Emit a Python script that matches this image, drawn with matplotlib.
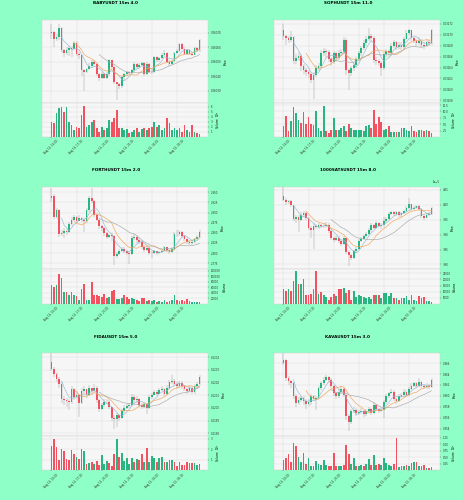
import numpy as np
import pandas as pd
import matplotlib
matplotlib.use("Agg")
import matplotlib.pyplot as plt
from matplotlib.ticker import MultipleLocator, FormatStrFormatter, ScalarFormatter

# 60 candles of 15m, ticks every 10 candles
tick_idx = [0, 10, 20, 30, 40, 50]
tick_labels = ["Aug 14, 15:00", "Aug 14, 17:30", "Aug 14, 20:00",
               "Aug 14, 22:30", "Aug 15, 01:00", "Aug 15, 03:30"]
ma_windows = [5, 10, 20]

# --- BABYUSDT (prices in 1e-5) ---
baby_open0 = 6069.5
baby_close = [6070.5, 6066, 6067, 6073, 6058.4, 6056.3, 6058, 6059.5, 6059, 6063,
              6055.6, 6054.4, 6044, 6042.8, 6045, 6047.4, 6050, 6048.6, 6041.6, 6039,
              6041.6, 6039, 6041.6, 6051, 6046.3, 6035.8, 6034.5, 6033, 6039.3, 6041.6,
              6042.8, 6042.5, 6044, 6048.6, 6046.3, 6048, 6049, 6041.6, 6048.6, 6043,
              6042.8, 6053.3, 6051, 6052.5, 6054.4, 6056, 6050, 6048.6, 6050.5, 6056.3,
              6057.5, 6062, 6059, 6055.6, 6058, 6055.6, 6055, 6059.5, 6058, 6065]
baby_high = [6076, 6071, 6069, 6076, 6074, 6059, 6060, 6061, 6061, 6064,
             6064, 6057, 6055, 6045, 6046, 6049, 6051, 6051.5, 6049, 6042.5,
             6043, 6042, 6043, 6052, 6051.5, 6047, 6036, 6035.5, 6040, 6042.5,
             6043.5, 6043.5, 6045, 6050, 6049, 6049, 6050, 6049.5, 6049.5, 6049,
             6045, 6054, 6054, 6053.5, 6056, 6058, 6056.5, 6051, 6051.5, 6057,
             6059, 6063, 6063, 6060, 6059, 6058.5, 6057, 6060.5, 6060, 6066]
baby_low = [6066, 6060, 6064, 6065, 6056, 6053, 6055, 6054, 6053, 6058,
            6054, 6052, 6040, 6029.5, 6042, 6044, 6046, 6047, 6040, 6037,
            6038, 6038, 6038, 6040, 6045, 6035, 6023.5, 6031, 6032, 6037,
            6040, 6041, 6041.5, 6043, 6045, 6045, 6047, 6040.5, 6041, 6042,
            6041.5, 6042, 6050, 6050, 6052, 6054, 6049, 6047, 6047.5, 6050,
            6055.5, 6057, 6058, 6055, 6054.5, 6055, 6054, 6054.5, 6057, 6057]
baby_vol = [3.0, 2.7, 4.7, 5.7, 5.9, 5.0, 6.0, 3.0, 2.3, 1.3,
            2.0, 1.7, 4.3, 6.2, 2.0, 2.3, 3.0, 3.3, 1.7, 1.0,
            2.0, 1.3, 1.7, 3.3, 3.0, 3.7, 5.3, 1.7, 1.7, 1.3,
            1.5, 0.7, 1.0, 1.3, 1.7, 1.0, 1.5, 1.7, 1.3, 1.7,
            2.0, 3.0, 2.0, 2.3, 1.3, 1.7, 3.7, 2.7, 1.3, 1.7,
            1.3, 1.7, 1.0, 2.3, 1.3, 1.0, 2.3, 1.0, 0.7, 0.5]

# --- SOPHUSDT (prices in 1e-5) ---
soph_open0 = 3270.8
soph_close = [3269.8, 3269.4, 3269.0, 3269.6, 3265.2, 3265.8, 3266.2, 3264.2, 3263.6, 3263.2,
              3262.8, 3261.8, 3262.7, 3263.9, 3264.3, 3266.7, 3267.1, 3266.9, 3265.6, 3265.0,
              3266.6, 3265.8, 3266.6, 3266.9, 3269.1, 3263.5, 3263.0, 3263.9, 3264.4, 3265.6,
              3266.6, 3267.6, 3268.5, 3269.2, 3269.7, 3269.4, 3265.4, 3265.2, 3264.9, 3264.0,
              3266.4, 3267.0, 3266.6, 3267.9, 3268.6, 3267.8, 3268.2, 3267.7, 3269.2, 3270.4,
              3270.8, 3269.4, 3268.9, 3268.5, 3268.9, 3268.2, 3268.0, 3268.6, 3268.5, 3270.8]
soph_high = [3272.0, 3270.0, 3269.8, 3270.6, 3269.8, 3266.4, 3266.8, 3266.4, 3264.6, 3264.0,
             3263.6, 3263.0, 3263.2, 3264.4, 3264.8, 3267.2, 3267.6, 3267.4, 3267.2, 3265.8,
             3267.0, 3266.8, 3267.2, 3267.4, 3269.6, 3269.4, 3263.8, 3264.2, 3264.8, 3266.0,
             3267.0, 3268.0, 3269.0, 3269.8, 3271.2, 3270.2, 3269.8, 3266.0, 3265.6, 3265.2,
             3266.8, 3267.4, 3267.4, 3268.4, 3269.0, 3268.8, 3268.6, 3268.6, 3269.6, 3270.8,
             3271.0, 3270.9, 3269.6, 3269.2, 3269.6, 3269.2, 3268.6, 3269.2, 3269.0, 3271.0]
soph_low = [3269.0, 3268.2, 3268.4, 3268.6, 3264.6, 3264.6, 3265.2, 3263.4, 3262.8, 3262.4,
            3262.0, 3261.2, 3258.2, 3262.2, 3263.4, 3264.0, 3266.2, 3266.0, 3265.0, 3264.2,
            3264.6, 3265.0, 3265.4, 3266.2, 3266.4, 3262.6, 3259.8, 3262.4, 3263.4, 3264.0,
            3265.2, 3266.2, 3267.2, 3268.0, 3268.8, 3268.9, 3264.8, 3264.4, 3264.2, 3262.4,
            3263.6, 3266.0, 3266.0, 3266.2, 3267.6, 3267.2, 3267.4, 3267.2, 3267.4, 3269.0,
            3270.0, 3268.8, 3268.4, 3267.8, 3268.2, 3267.6, 3267.4, 3267.8, 3268.0, 3268.2]
soph_vol = [4.2, 8.1, 2.3, 6.1, 11.6, 9.3, 6.5, 5.5, 9.7, 5.2,
            7.8, 4.9, 4.6, 10.2, 3.7, 2.3, 12.2, 2.3, 1.7, 2.6,
            7.4, 2.9, 2.6, 3.6, 4.2, 2.3, 5.2, 3.6, 2.9, 2.7,
            2.6, 2.6, 2.3, 4.2, 4.7, 3.6, 10.6, 4.9, 7.8, 5.8,
            2.9, 3.2, 4.5, 1.9, 1.9, 1.9, 1.9, 3.6, 3.6, 2.9,
            2.3, 4.2, 2.3, 1.9, 2.7, 2.7, 2.3, 2.7, 2.3, 1.4]

# --- FORTHUSDT ---
forth_open0 = 2.935
forth_close = [2.940, 2.890, 2.906, 2.848, 2.849, 2.855, 2.852, 2.872, 2.882, 2.889,
               2.880, 2.887, 2.882, 2.878, 2.906, 2.935, 2.929, 2.895, 2.882, 2.866,
               2.861, 2.849, 2.840, 2.844, 2.842, 2.793, 2.797, 2.806, 2.810, 2.806,
               2.800, 2.797, 2.838, 2.840, 2.832, 2.828, 2.815, 2.808, 2.812, 2.800,
               2.801, 2.804, 2.800, 2.802, 2.806, 2.814, 2.808, 2.802, 2.810, 2.848,
               2.846, 2.851, 2.842, 2.834, 2.827, 2.826, 2.827, 2.834, 2.840, 2.853]
forth_high = [2.962, 2.945, 2.912, 2.910, 2.856, 2.862, 2.860, 2.876, 2.890, 2.895,
              2.892, 2.893, 2.890, 2.886, 2.912, 2.940, 2.960, 2.932, 2.898, 2.885,
              2.870, 2.864, 2.852, 2.848, 2.850, 2.845, 2.803, 2.810, 2.815, 2.814,
              2.808, 2.805, 2.842, 2.846, 2.842, 2.836, 2.830, 2.818, 2.818, 2.814,
              2.806, 2.808, 2.806, 2.806, 2.810, 2.818, 2.816, 2.810, 2.814, 2.852,
              2.856, 2.856, 2.854, 2.844, 2.836, 2.832, 2.832, 2.838, 2.844, 2.857]
forth_low = [2.925, 2.885, 2.885, 2.840, 2.842, 2.838, 2.845, 2.850, 2.868, 2.878,
             2.874, 2.878, 2.876, 2.852, 2.875, 2.902, 2.924, 2.890, 2.878, 2.860,
             2.855, 2.843, 2.835, 2.836, 2.830, 2.770, 2.788, 2.795, 2.802, 2.800,
             2.795, 2.772, 2.795, 2.832, 2.826, 2.822, 2.810, 2.802, 2.805, 2.795,
             2.788, 2.797, 2.795, 2.797, 2.800, 2.804, 2.803, 2.797, 2.799, 2.806,
             2.840, 2.842, 2.836, 2.830, 2.822, 2.820, 2.820, 2.826, 2.832, 2.838]
forth_vol = [67800, 59500, 67800, 107000, 91600, 44000, 44000, 32100, 44000, 29800,
             26200, 11900, 53500, 71400, 11900, 11900, 77400, 33300, 33300, 27400,
             23800, 35700, 20200, 23800, 47600, 51200, 17900, 15500, 20200, 32100,
             23800, 17900, 20200, 17900, 11900, 8300, 20200, 20200, 8300, 11900,
             8300, 11900, 6000, 8300, 6000, 11900, 6000, 8300, 14300, 29800,
             11900, 8300, 11900, 8300, 15500, 8300, 6000, 6000, 6000, 6000]

# --- 1000SATSUSDT (prices in 1e-5) ---
sats_open0 = 4.030
sats_close = [4.018, 4.010, 4.014, 3.998, 3.952, 3.958, 3.950, 3.965, 3.972, 3.955,
              3.922, 3.915, 3.930, 3.925, 3.932, 3.928, 3.930, 3.934, 3.912, 3.888,
              3.882, 3.890, 3.878, 3.870, 3.888, 3.842, 3.830, 3.822, 3.845, 3.852,
              3.880, 3.886, 3.894, 3.902, 3.916, 3.932, 3.924, 3.940, 3.930, 3.932,
              3.945, 3.952, 3.970, 3.975, 3.968, 3.975, 3.965, 3.972, 3.978, 3.990,
              4.002, 3.986, 3.990, 3.995, 3.985, 3.962, 3.956, 3.965, 3.970, 3.990]
sats_high = [4.060, 4.022, 4.018, 4.016, 4.000, 3.965, 3.965, 3.975, 3.980, 3.975,
             3.958, 3.930, 3.938, 3.935, 3.940, 3.936, 3.938, 3.942, 3.938, 3.915,
             3.892, 3.896, 3.894, 3.885, 3.894, 3.890, 3.845, 3.836, 3.850, 3.858,
             3.884, 3.892, 3.900, 3.908, 3.922, 3.940, 3.936, 3.946, 3.944, 3.938,
             3.958, 3.958, 3.976, 3.980, 3.978, 3.980, 3.978, 3.976, 3.984, 3.996,
             4.022, 4.004, 3.996, 4.000, 3.998, 3.988, 3.966, 3.972, 3.976, 3.994]
sats_low = [4.012, 4.000, 4.004, 3.992, 3.945, 3.940, 3.909, 3.945, 3.960, 3.950,
            3.915, 3.890, 3.852, 3.918, 3.920, 3.922, 3.924, 3.926, 3.905, 3.882,
            3.876, 3.880, 3.872, 3.862, 3.865, 3.836, 3.795, 3.815, 3.818, 3.840,
            3.848, 3.876, 3.886, 3.892, 3.898, 3.910, 3.918, 3.920, 3.925, 3.920,
            3.925, 3.940, 3.948, 3.965, 3.962, 3.964, 3.960, 3.960, 3.968, 3.975,
            3.985, 3.980, 3.982, 3.986, 3.978, 3.956, 3.950, 3.955, 3.962, 3.966]
sats_vol = [12350, 10300, 12350, 10300, 18500, 27050, 16200, 16200, 20000, 7350,
            7350, 7940, 12350, 27050, 7940, 9700, 7350, 5880, 2940, 5880,
            8230, 6470, 12350, 12350, 13230, 8820, 11170, 2940, 10300, 5880,
            7350, 6760, 5880, 4410, 5880, 3530, 7350, 7350, 7350, 5000,
            8820, 8820, 6760, 8820, 4410, 4410, 2940, 5000, 5000, 6760,
            2940, 7350, 2940, 2060, 6470, 4410, 5880, 2060, 2060, 1470]

# --- FIDAUSDT (prices in 1e-4) ---
fida_open0 = 1203.6
fida_close = [1203.05, 1202.66, 1202.3, 1201.9, 1200.7, 1200.6, 1200.55, 1200.45, 1201.5, 1200.85,
              1201.05, 1200.4, 1201.35, 1201.45, 1201.0, 1201.55, 1201.3, 1201.6, 1200.6, 1199.95,
              1200.2, 1200.45, 1200.5, 1200.05, 1199.2, 1199.15, 1199.4, 1199.2, 1199.75, 1200.0,
              1200.15, 1200.25, 1200.85, 1200.6, 1200.7, 1200.25, 1200.1, 1200.3, 1200.0, 1200.85,
              1201.05, 1201.25, 1201.1, 1201.4, 1201.5, 1201.1, 1201.6, 1202.0, 1202.15, 1201.9,
              1201.75, 1201.95, 1201.75, 1201.5, 1201.35, 1201.6, 1201.25, 1201.7, 1201.85, 1202.4]
fida_high = [1204.3, 1203.2, 1202.8, 1202.4, 1202.0, 1200.9, 1200.8, 1200.7, 1201.7, 1201.6,
             1201.3, 1201.1, 1201.6, 1201.7, 1201.5, 1201.8, 1201.6, 1201.9, 1201.7, 1200.7,
             1200.4, 1200.7, 1200.7, 1200.6, 1200.1, 1199.4, 1199.6, 1199.5, 1199.9, 1200.2,
             1200.3, 1200.4, 1201.1, 1201.0, 1200.9, 1200.8, 1200.4, 1200.5, 1200.4, 1201.0,
             1201.2, 1201.4, 1201.4, 1201.6, 1201.7, 1201.6, 1201.8, 1202.2, 1202.6, 1202.3,
             1202.0, 1202.1, 1202.1, 1201.8, 1201.6, 1201.7, 1201.7, 1201.9, 1202.0, 1202.6]
fida_low = [1202.9, 1202.4, 1202.0, 1201.6, 1200.4, 1200.2, 1200.1, 1199.8, 1200.3, 1200.6,
            1200.7, 1199.3, 1200.3, 1201.1, 1200.8, 1200.9, 1201.0, 1201.2, 1200.4, 1199.7,
            1199.8, 1200.1, 1200.3, 1199.9, 1199.0, 1198.3, 1198.5, 1199.0, 1199.1, 1199.6,
            1199.9, 1200.0, 1200.1, 1200.4, 1200.4, 1200.1, 1199.9, 1200.0, 1199.5, 1199.9,
            1200.7, 1201.0, 1200.9, 1201.1, 1201.3, 1200.9, 1201.0, 1201.5, 1201.9, 1201.7,
            1201.5, 1201.6, 1201.5, 1201.3, 1201.1, 1201.2, 1201.1, 1201.1, 1201.6, 1201.8]
fida_vol = [2.3, 3.0, 2.2, 1.0, 2.0, 1.8, 1.1, 1.0, 1.9, 1.6,
            1.3, 1.1, 2.0, 1.8, 0.6, 0.7, 0.8, 0.6, 0.9, 0.5,
            1.5, 0.6, 0.9, 0.7, 0.4, 1.6, 3.0, 1.3, 1.7, 0.9,
            1.2, 0.6, 1.2, 0.8, 1.1, 1.0, 1.6, 0.8, 2.1, 0.8,
            1.4, 1.2, 0.8, 1.2, 1.3, 0.8, 0.8, 1.0, 1.0, 0.8,
            0.4, 0.8, 0.5, 0.5, 0.8, 0.7, 0.7, 0.7, 0.5, 0.6]

# --- KAVAUSDT (prices in 1e-3) ---
kava_open0 = 366.0
kava_close = [366.6, 363.3, 362.7, 362.3, 360.0, 358.7, 359.3, 359.6, 359.0, 358.6,
              358.8, 359.9, 359.5, 359.6, 361.4, 362.3, 363.0, 363.4, 363.0, 361.8,
              360.5, 360.0, 360.8, 361.3, 360.2, 356.3, 355.2, 357.2, 357.5, 356.9,
              357.0, 357.3, 356.7, 357.2, 357.6, 356.9, 358.4, 357.6, 357.3, 357.5,
              358.8, 359.9, 360.5, 360.8, 359.4, 359.0, 359.9, 360.2, 360.8, 360.2,
              361.3, 361.9, 362.3, 361.8, 362.5, 361.9, 361.6, 361.9, 361.7, 363.0]
kava_high = [368.0, 366.8, 363.6, 363.0, 362.5, 360.4, 359.8, 360.0, 359.9, 359.4,
             359.5, 360.3, 360.2, 360.0, 361.8, 362.7, 363.4, 363.8, 363.6, 363.2,
             362.0, 360.8, 361.2, 361.8, 361.6, 360.5, 356.6, 357.6, 358.0, 357.8,
             357.4, 357.7, 357.5, 357.6, 358.0, 357.8, 358.8, 358.6, 357.8, 357.9,
             359.2, 360.3, 360.8, 361.2, 361.0, 359.6, 360.3, 360.6, 361.2, 361.0,
             361.6, 362.3, 362.6, 362.5, 363.3, 362.7, 362.1, 362.3, 362.2, 363.3]
kava_low = [365.6, 362.8, 362.0, 361.4, 359.4, 358.0, 358.3, 358.8, 358.4, 357.6,
            358.2, 358.4, 359.0, 357.5, 359.4, 361.0, 362.0, 362.7, 362.4, 361.4,
            360.0, 359.4, 359.6, 360.4, 359.8, 355.6, 353.6, 354.8, 356.8, 356.4,
            356.5, 356.6, 356.2, 356.4, 356.9, 356.5, 356.6, 357.2, 356.8, 357.0,
            356.0, 358.6, 359.6, 360.3, 359.0, 358.6, 358.8, 359.6, 360.0, 359.8,
            360.0, 361.0, 361.6, 361.4, 361.6, 361.5, 361.2, 361.3, 361.3, 361.5]
kava_vol = [0.38, 0.48, 0.62, 0.31, 1.05, 0.93, 0.52, 0.31, 0.66, 0.26,
            0.46, 0.17, 0.17, 0.35, 0.26, 0.22, 0.39, 0.22, 0.17, 0.17,
            0.66, 0.17, 0.17, 0.17, 0.22, 0.98, 0.62, 0.24, 0.48, 0.17,
            0.15, 0.22, 0.15, 0.24, 0.42, 0.22, 0.58, 0.22, 0.24, 0.22,
            0.47, 0.28, 0.22, 0.17, 0.24, 1.25, 0.12, 0.15, 0.17, 0.22,
            0.15, 0.28, 0.31, 0.31, 0.17, 0.15, 0.22, 0.08, 0.08, 0.12]

BG = "#8effc6"
UP = "#29b57f"
DOWN = "#f2515f"
WICK = "#9c9c9c"
MA_COLORS = ["#95b9d2", "#f3a455", "#a9a9a9"]

panels = [
    dict(title="BABYUSDT 15m 4.0", o0=baby_open0, c=baby_close, h=baby_high, l=baby_low,
         v=baby_vol, scale=1e-5, ylim=(6021.9, 6078.8), ystep=10, fmt="%.5f",
         vlim=6.8, vstep=1, vfmt="%g", vlabel="Volume  $10^{6}$"),
    dict(title="SOPHUSDT 15m 11.0", o0=soph_open0, c=soph_close, h=soph_high, l=soph_low,
         v=soph_vol, scale=1e-5, ylim=(3257.6, 3272.7), ystep=2, fmt="%.5f",
         vlim=13.5, vstep=2.5, vfmt="%.1f", vlabel="Volume  $10^{5}$"),
    dict(title="FORTHUSDT 15m 2.0", o0=forth_open0, c=forth_close, h=forth_high, l=forth_low,
         v=forth_vol, scale=1.0, ylim=(2.760, 2.964), ystep=0.025, fmt="%.3f",
         vlim=125000, vstep=20000, vfmt="%d", vlabel="Volume"),
    dict(title="1000SATSUSDT 15m 8.0", o0=sats_open0, c=sats_close, h=sats_high, l=sats_low,
         v=sats_vol, scale=1e-5, ylim=(3.784, 4.061), ystep=0.05, fmt=None,
         vlim=28500, vstep=5000, vfmt="%d", vlabel="Volume"),
    dict(title="FIDAUSDT 15m 5.0", o0=fida_open0, c=fida_close, h=fida_high, l=fida_low,
         v=fida_vol, scale=1e-4, ylim=(1197.8, 1204.3), ystep=1, fmt="%.4f",
         vlim=3.3, vstep=1, vfmt="%g", vlabel="Volume  $10^{5}$"),
    dict(title="KAVAUSDT 15m 3.0", o0=kava_open0, c=kava_close, h=kava_high, l=kava_low,
         v=kava_vol, scale=1e-3, ylim=(352.7, 367.8), ystep=2, fmt="%.3f",
         vlim=1.32, vstep=0.25, vfmt="%.2f", vlabel="Volume  $10^{6}$"),
]

W, H = 464, 500
fig = plt.figure(figsize=(W / 100, H / 100), dpi=100, facecolor=BG)

col_left = [41.7, 273.7]
col_center = [116, 348]
row_top = [20, 186.7, 353.3]
ax_w, price_h, vol_h = 166.6, 82.5, 34.5
x = np.arange(60)


def style_axis(a):
    a.set_facecolor("#f6f6f6")
    a.grid(True, color="#dadada", lw=0.3)
    a.set_axisbelow(True)
    a.yaxis.tick_right()
    a.yaxis.set_label_position("right")
    a.tick_params(labelsize=1.9, length=1, width=0.3, pad=0.8, colors="#333333")
    for s in a.spines.values():
        s.set_linewidth(0.3)
        s.set_color("#cfcfcf")
    a.set_xlim(-3.9, 62.5)
    a.set_xticks(tick_idx)


for k, p in enumerate(panels):
    row, col = divmod(k, 2)
    left = col_left[col]
    top = row_top[row]
    ax = fig.add_axes([left / W, 1 - (top + price_h) / H, ax_w / W, price_h / H])
    vax = fig.add_axes([left / W, 1 - (top + price_h + vol_h) / H, ax_w / W, vol_h / H])

    s = p["scale"]
    c = np.array(p["c"]) * s
    o = np.array([p["o0"]] + p["c"][:-1]) * s
    h = np.array(p["h"]) * s
    l = np.array(p["l"]) * s
    colors = np.where(c >= o, UP, DOWN)

    ax.vlines(x, l, h, color=WICK, lw=0.35, zorder=2)
    ax.bar(x, c - o, bottom=o, width=0.7, color=colors, lw=0, zorder=3)
    for w, mc in zip(ma_windows, MA_COLORS):
        ax.plot(x, pd.Series(c).rolling(w).mean(), color=mc, lw=0.45, zorder=4)

    vax.bar(x, p["v"], width=0.7, color=colors, lw=0, zorder=3)

    style_axis(ax)
    style_axis(vax)

    ax.set_ylim(p["ylim"][0] * s, p["ylim"][1] * s)
    ax.yaxis.set_major_locator(MultipleLocator(p["ystep"] * s))
    if p["fmt"]:
        ax.yaxis.set_major_formatter(FormatStrFormatter(p["fmt"]))
    else:
        ax.yaxis.set_major_formatter(ScalarFormatter(useMathText=False))
        ax.yaxis.get_offset_text().set_fontsize(1.9)
    ax.tick_params(labelbottom=False)
    ax.set_ylabel("Price", fontsize=2, labelpad=1.5)

    vax.set_ylim(0, p["vlim"])
    vax.set_yticks(np.arange(p["vstep"], p["vlim"], p["vstep"]))
    vax.yaxis.set_major_formatter(FormatStrFormatter(p["vfmt"]))
    vax.set_ylabel(p["vlabel"], fontsize=2, labelpad=1.5)
    vax.set_xticklabels(tick_labels, rotation=45, fontsize=1.9)

    fig.text(col_center[col] / W, 1 - (top - 16.5) / H, p["title"],
             ha="center", va="center", fontsize=3, fontweight="bold")

fig.savefig("out.png", dpi=100, facecolor=BG)
